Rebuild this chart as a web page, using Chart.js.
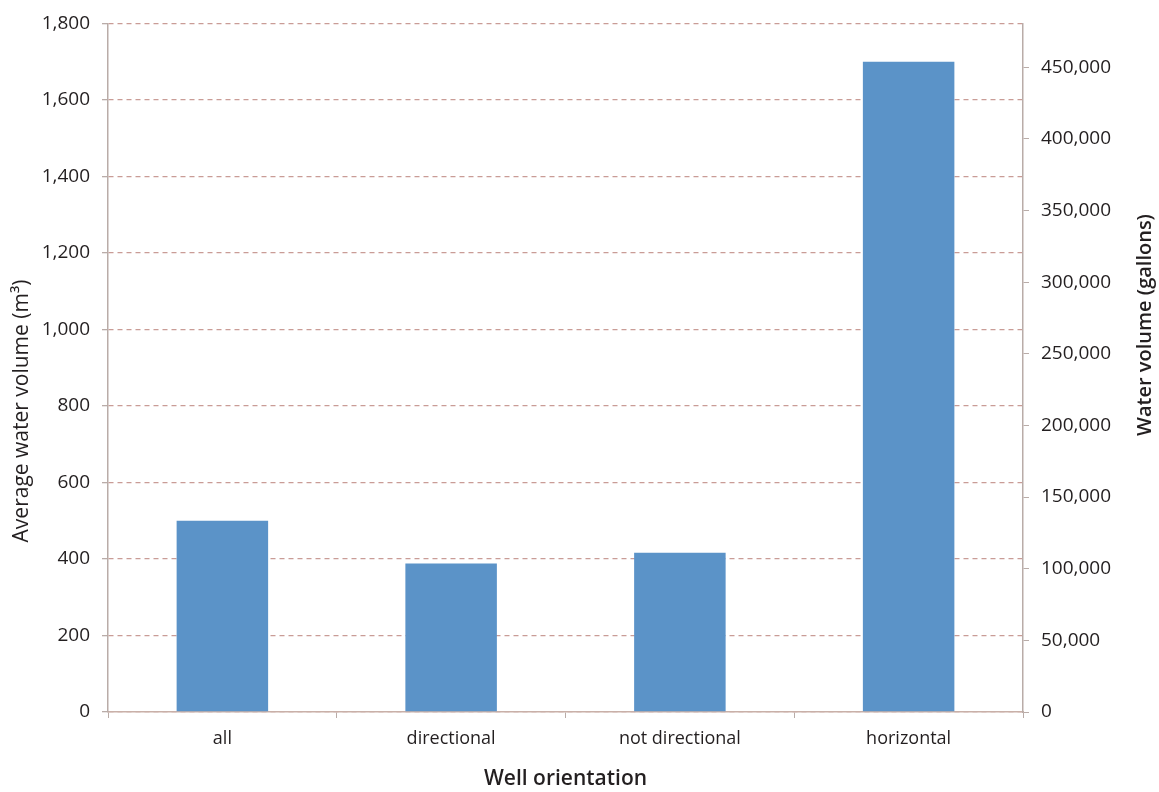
<!DOCTYPE html>
<html>
<head>
<meta charset="utf-8">
<script src="https://cdn.jsdelivr.net/npm/chart.js@4"></script>
<style>
  html, body { margin: 0; padding: 0; background: #fff; }
  #wrap { width: 1159px; height: 792px; }
</style>
</head>
<body>
<div id="wrap"><canvas id="waterChart" width="1159" height="792"></canvas></div>
<script>
// datos
const orientations = ["all", "directional", "not directional", "horizontal"];
const avgVolumeM3 = [500, 388, 416, 1700];
const leftTicksMax = 1800;
const rightTickValues = [0, 50000, 100000, 150000, 200000, 250000, 300000, 350000, 400000, 450000];
// factor m3 -> galones según la escala derecha de la figura
const gallonsPerM3 = 267;

const leftTitle = "Average water volume (m³)";
const rightTitle = "Water volume (gallons)";
const bottomTitle = "Well orientation";

const FONT = '"Open Sans", "Liberation Sans", sans-serif';
const TEXT = "#231f20";
const AXIS = "#b9aca8";
const GRID = "#c99c96";

// títulos verticales: el derecho se lee de abajo hacia arriba
const sideTitles = {
  id: "sideTitles",
  afterDraw(chart) {
    const { ctx } = chart;
    ctx.save();
    ctx.fillStyle = TEXT;
    ctx.textAlign = "center";
    ctx.textBaseline = "middle";

    ctx.font = "21px " + FONT;
    ctx.save();
    ctx.translate(22, 411);
    ctx.rotate(-Math.PI / 2);
    ctx.fillText(leftTitle, 0, 0);
    ctx.restore();

    ctx.font = "600 20px " + FONT;
    ctx.save();
    ctx.translate(1145, 325);
    ctx.rotate(-Math.PI / 2);
    ctx.fillText(rightTitle, 0, 0);
    ctx.restore();

    ctx.restore();
  }
};

const fmt = (v) => Number(v).toLocaleString("en-US");

new Chart(document.getElementById("waterChart"), {
  type: "bar",
  data: {
    labels: orientations,
    datasets: [{
      label: "Average water volume",
      data: avgVolumeM3,
      backgroundColor: "#5b93c8",
      borderWidth: 0,
      categoryPercentage: 0.4,
      barPercentage: 1.0,
      yAxisID: "y"
    }]
  },
  options: {
    responsive: false,
    animation: false,
    layout: { padding: { top: 21, left: 0, right: 0, bottom: 0 } },
    plugins: {
      legend: { display: false },
      tooltip: { enabled: false }
    },
    scales: {
      x: {
        grid: {
          offset: true,
          drawOnChartArea: false,
          drawTicks: true,
          tickLength: 6,
          tickColor: AXIS
        },
        border: { color: "#c9b0a8", width: 1.5 },
        ticks: { color: TEXT, font: { family: FONT, size: 18 }, padding: 10 },
        title: {
          display: true,
          text: bottomTitle,
          color: TEXT,
          font: { family: FONT, size: 21, weight: "600" },
          padding: { top: 0, bottom: 0 }
        },
        afterFit(scale) { scale.height = 80; }
      },
      y: {
        position: "left",
        min: 0,
        max: leftTicksMax,
        ticks: {
          stepSize: 200,
          color: TEXT,
          font: { family: FONT, size: 19 },
          padding: 12,
          callback: fmt
        },
        grid: {
          color: GRID,
          lineWidth: 1.3,
          tickLength: 6,
          tickColor: AXIS,
          tickBorderDash: []
        },
        border: { display: true, color: AXIS, width: 1.5, dash: [5, 4] },
        afterFit(scale) { scale.width = 108; }
      },
      y2: {
        position: "right",
        min: 0,
        max: leftTicksMax * gallonsPerM3,
        afterBuildTicks(scale) {
          scale.ticks = rightTickValues.map((v) => ({ value: v }));
        },
        ticks: {
          color: TEXT,
          font: { family: FONT, size: 19 },
          padding: 12,
          callback: fmt
        },
        grid: {
          drawOnChartArea: false,
          tickLength: 6,
          tickColor: AXIS
        },
        border: { color: AXIS, width: 1.5 },
        afterFit(scale) { scale.width = 136; }
      }
    }
  },
  plugins: [sideTitles]
});
</script>
</body>
</html>
